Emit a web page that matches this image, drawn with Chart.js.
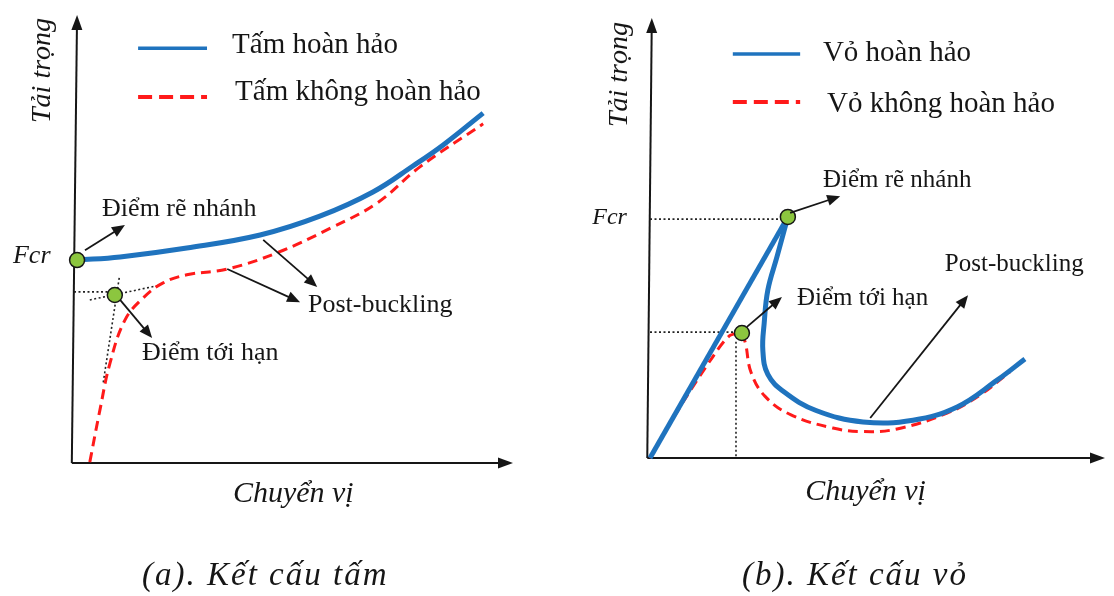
<!DOCTYPE html>
<html>
<head>
<meta charset="utf-8">
<script src="https://cdn.jsdelivr.net/npm/chart.js@4.4.1/dist/chart.umd.min.js"></script>
<style>
  html, body { margin: 0; padding: 0; background: #fff; }
  #wrap { position: relative; width: 1114px; height: 596px; }
  .panel { position: absolute; top: 0; width: 557px; height: 596px; }
</style>
</head>
<body>
<div id="wrap">
  <div class="panel" style="left:0"><canvas id="chart-tam" width="557" height="596"></canvas></div>
  <div class="panel" style="left:557px"><canvas id="chart-vo" width="557" height="596"></canvas></div>
</div>
<script>
// ---- (a) Kết cấu tấm : x = chuyển vị, y = tải trọng (0..100)
const tamHoanHao = [[0.7, 45.3], [10.5, 46.0], [25.7, 48.0], [42.4, 50.9], [56.0, 55.1], [68.1, 60.5], [77.2, 66.3], [84.1, 71.0], [93.2, 78.1]];
const tamKhongHoanHao = [[3.6, 0.2], [5.9, 11.8], [8.2, 22.3], [11.6, 31.9], [15.7, 36.8], [20.3, 40.2], [25.7, 42.0], [34.9, 43.3], [46.2, 46.9], [59.0, 52.7], [69.0, 58.0], [78.8, 66.1], [93.2, 75.7]];
const tamDiem = [[0.7, 45.3], [9.3, 37.5]];
const tamDuongPhu = [
  [[0, 38.2], [8.9, 38.2]],
  [[3.6, 36.4], [19.6, 39.7]],
  [[10.3, 41.3], [6.6, 17.6]],
];

// ---- (b) Kết cấu vỏ
const voHoanHaoTang = [[0, 0], [30.3, 54.8]];
const voHoanHaoSau = [[30.3, 54.8], [27.9, 45.7], [25.9, 38.2], [25.1, 30.7], [24.8, 24.5], [25.9, 19.0], [29.5, 15.0], [36.5, 10.8], [46.8, 8.2], [57.8, 8.6], [67.5, 11.6], [76.3, 17.7], [82.4, 22.5]];
const voKhongHoanHaoTang = [[0, 0], [6.6, 11.6], [13.8, 23.0], [17.5, 27.8], [20.2, 28.4]];
const voKhongHoanHaoSau = [[20.2, 28.4], [21.0, 26.0], [22.2, 19.5], [25.3, 14.0], [31.0, 9.8], [40.2, 6.8], [46.8, 6.0], [54.3, 6.6], [65.3, 10.2], [72.5, 14.3], [79.1, 19.6]];
const voDiem = [[30.3, 54.8], [20.2, 28.4]];
const voDuongPhu = [
  [[0, 54.3], [29.0, 54.3]],
  [[0, 28.6], [18.7, 28.6]],
  [[18.9, 26.4], [18.9, 0]],
];

const BLUE = "#1F73BE";
const RED = "#FF1A1A";
const GREEN = "#8CC63F";
const INK = "#161616";
const SERIF = "'Liberation Serif', 'Times New Roman', serif";

const xy = (pts) => pts.map(([x, y]) => ({ x: x, y: y }));

function lineSet(pts, color, width, dash, order, tension) {
  return {
    data: xy(pts),
    showLine: true,
    borderColor: color,
    borderWidth: width,
    borderDash: dash,
    pointRadius: 0,
    tension: tension,
    order: order,
    clip: false,
  };
}

function dotSet(pts) {
  return {
    data: xy(pts),
    showLine: false,
    pointRadius: 7.5,
    pointBackgroundColor: GREEN,
    pointBorderColor: INK,
    pointBorderWidth: 1.5,
    order: 0,
    clip: false,
  };
}

function guideSets(list) {
  return list.map((seg) => lineSet(seg, "#222", 1.6, [2, 2.5], 9, 0));
}

function drawArrow(ctx, x1, y1, x2, y2, head, half) {
  const a = Math.atan2(y2 - y1, x2 - x1);
  const c = Math.cos(a), s = Math.sin(a);
  ctx.beginPath();
  ctx.moveTo(x1, y1);
  ctx.lineTo(x2 - c * head * 0.8, y2 - s * head * 0.8);
  ctx.stroke();
  ctx.beginPath();
  ctx.moveTo(x2, y2);
  ctx.lineTo(x2 - head * c + half * s, y2 - head * s - half * c);
  ctx.lineTo(x2 - head * c - half * s, y2 - head * s + half * c);
  ctx.closePath();
  ctx.fill();
}

// vẽ trục, mũi tên, chữ, chú giải
const sketch = {
  id: "sketch",
  beforeDatasetsDraw(chart, args, opts) {
    const { ctx, scales } = chart;
    const P = (p) => [scales.x.getPixelForValue(p[0]), scales.y.getPixelForValue(p[1])];
    ctx.save();
    ctx.strokeStyle = INK;
    ctx.fillStyle = INK;
    ctx.lineWidth = 2;
    const o = P(opts.axes.origin), t = P(opts.axes.top), r = P(opts.axes.right);
    drawArrow(ctx, o[0], o[1], t[0], t[1], 15, 5.5);
    drawArrow(ctx, o[0], o[1], r[0], r[1], 15, 5.5);
    ctx.restore();
  },
  afterDatasetsDraw(chart, args, opts) {
    const { ctx, scales } = chart;
    const P = (p) => [scales.x.getPixelForValue(p[0]), scales.y.getPixelForValue(p[1])];
    ctx.save();
    ctx.strokeStyle = INK;
    ctx.fillStyle = INK;
    ctx.lineWidth = 1.8;
    opts.arrows.forEach(([a, b]) => {
      const p1 = P(a), p2 = P(b);
      drawArrow(ctx, p1[0], p1[1], p2[0], p2[1], 13, 5.5);
    });

    // chú giải
    opts.legend.forEach((item) => {
      const a = P(item.line[0]), b = P(item.line[1]);
      ctx.save();
      ctx.strokeStyle = item.color;
      ctx.lineWidth = item.width;
      ctx.setLineDash(item.dash);
      ctx.beginPath();
      ctx.moveTo(a[0], a[1]);
      ctx.lineTo(b[0], b[1]);
      ctx.stroke();
      ctx.restore();
      const tp = P(item.at);
      ctx.font = opts.legendFont;
      ctx.textBaseline = "alphabetic";
      ctx.fillText(item.text, tp[0], tp[1]);
    });

    ctx.textBaseline = "alphabetic";
    ctx.textAlign = "left";
    opts.labels.forEach((l) => {
      const p = P(l.at);
      ctx.font = l.font;
      ctx.fillText(l.text, p[0], p[1]);
    });

    // tên trục đứng
    const yt = P(opts.yTitle.at);
    ctx.save();
    ctx.translate(yt[0], yt[1]);
    ctx.rotate(-Math.PI / 2);
    ctx.font = opts.yTitle.font;
    ctx.fillText(opts.yTitle.text, 0, 0);
    ctx.restore();

    const xt = P(opts.xTitle.at);
    ctx.font = opts.xTitle.font;
    ctx.fillText(opts.xTitle.text, xt[0], xt[1]);

    const cp = P(opts.caption.at);
    ctx.font = opts.caption.font;
    ctx.letterSpacing = "2px";
    ctx.fillText(opts.caption.text, cp[0], cp[1]);
    ctx.restore();
  },
};

function baseOptions(padding, sketchOpts) {
  return {
    responsive: false,
    animation: false,
    layout: { padding: padding },
    plugins: {
      legend: { display: false },
      tooltip: { enabled: false },
      sketch: sketchOpts,
    },
    scales: {
      x: { type: "linear", min: 0, max: 100, display: false },
      y: { type: "linear", min: 0, max: 100, display: false },
    },
  };
}

const chart = {
  tam: new Chart(document.getElementById("chart-tam"), {
    type: "scatter",
    plugins: [sketch],
    data: {
      datasets: [
        dotSet(tamDiem),
        lineSet(tamHoanHao, BLUE, 5, [], 1, 0.4),
        lineSet(tamKhongHoanHao, RED, 3, [10, 6], 2, 0.4),
        ...guideSets(tamDuongPhu),
      ],
    },
    options: baseOptions({ left: 74, right: 44, top: 15, bottom: 133 }, {
      axes: { origin: [-0.5, 0], top: [0.7, 100], right: [100, 0] },
      arrows: [
        [[2.5, 47.5], [11.6, 53.1]],
        [[43.1, 49.8], [55.4, 39.3]],
        [[34.9, 43.3], [51.5, 35.9]],
        [[10.5, 36.4], [17.8, 27.9]],
      ],
      legendFont: "29px " + SERIF,
      legend: [
        { line: [[14.6, 92.6], [30.3, 92.6]], color: BLUE, width: 3.5, dash: [], at: [36.0, 91.5], text: "Tấm hoàn hảo" },
        { line: [[14.6, 81.7], [30.3, 81.7]], color: RED, width: 4, dash: [14, 7], at: [36.7, 81.0], text: "Tấm không hoàn hảo" },
      ],
      labels: [
        { text: "Điểm rẽ nhánh", at: [6.4, 55.1], font: "26px " + SERIF },
        { text: "Fcr", at: [-13.9, 44.6], font: "italic 26px " + SERIF },
        { text: "Post-buckling", at: [53.3, 33.7], font: "26px " + SERIF },
        { text: "Điểm tới hạn", at: [15.5, 23.0], font: "26px " + SERIF },
      ],
      yTitle: { text: "Tải trọng", at: [-5.5, 75.9], font: "italic 28px " + SERIF },
      xTitle: { text: "Chuyển vị", at: [36.2, -8.7], font: "italic 30px " + SERIF },
      caption: { text: "(a). Kết cấu tấm", at: [15.5, -27.2], font: "italic 33px " + SERIF },
    }),
  }),
  vo: new Chart(document.getElementById("chart-vo"), {
    type: "scatter",
    plugins: [sketch],
    data: {
      datasets: [
        dotSet(voDiem),
        lineSet(voHoanHaoTang, BLUE, 5, [], 1, 0),
        lineSet(voHoanHaoSau, BLUE, 5, [], 1, 0.4),
        lineSet(voKhongHoanHaoTang, RED, 3, [10, 6], 2, 0.3),
        lineSet(voKhongHoanHaoSau, RED, 3, [10, 6], 2, 0.4),
        ...guideSets(voDuongPhu),
      ],
    },
    options: baseOptions({ left: 93, right: 9, top: 18, bottom: 138 }, {
      axes: { origin: [-0.6, 0], top: [0.4, 100], right: [100, 0] },
      arrows: [
        [[30.8, 55.7], [41.8, 59.5]],
        [[21.3, 29.8], [29.0, 36.6]],
        [[48.4, 9.1], [69.9, 37.0]],
      ],
      legendFont: "29px " + SERIF,
      legend: [
        { line: [[18.2, 91.8], [33.0, 91.8]], color: BLUE, width: 3.5, dash: [], at: [38.0, 90.2], text: "Vỏ hoàn hảo" },
        { line: [[18.2, 80.9], [33.0, 80.9]], color: RED, width: 4, dash: [14, 7], at: [38.9, 78.6], text: "Vỏ không hoàn hảo" },
      ],
      labels: [
        { text: "Điểm rẽ nhánh", at: [38.0, 61.6], font: "25px " + SERIF },
        { text: "Fcr", at: [-12.7, 53.2], font: "italic 24px " + SERIF },
        { text: "Post-buckling", at: [64.8, 42.5], font: "25px " + SERIF },
        { text: "Điểm tới hạn", at: [32.3, 34.8], font: "25px " + SERIF },
      ],
      yTitle: { text: "Tải trọng", at: [-5.1, 75.2], font: "italic 28px " + SERIF },
      xTitle: { text: "Chuyển vị", at: [34.1, -9.5], font: "italic 30px " + SERIF },
      caption: { text: "(b). Kết cấu vỏ", at: [20.2, -28.9], font: "italic 33px " + SERIF },
    }),
  }),
};
</script>
</body>
</html>
